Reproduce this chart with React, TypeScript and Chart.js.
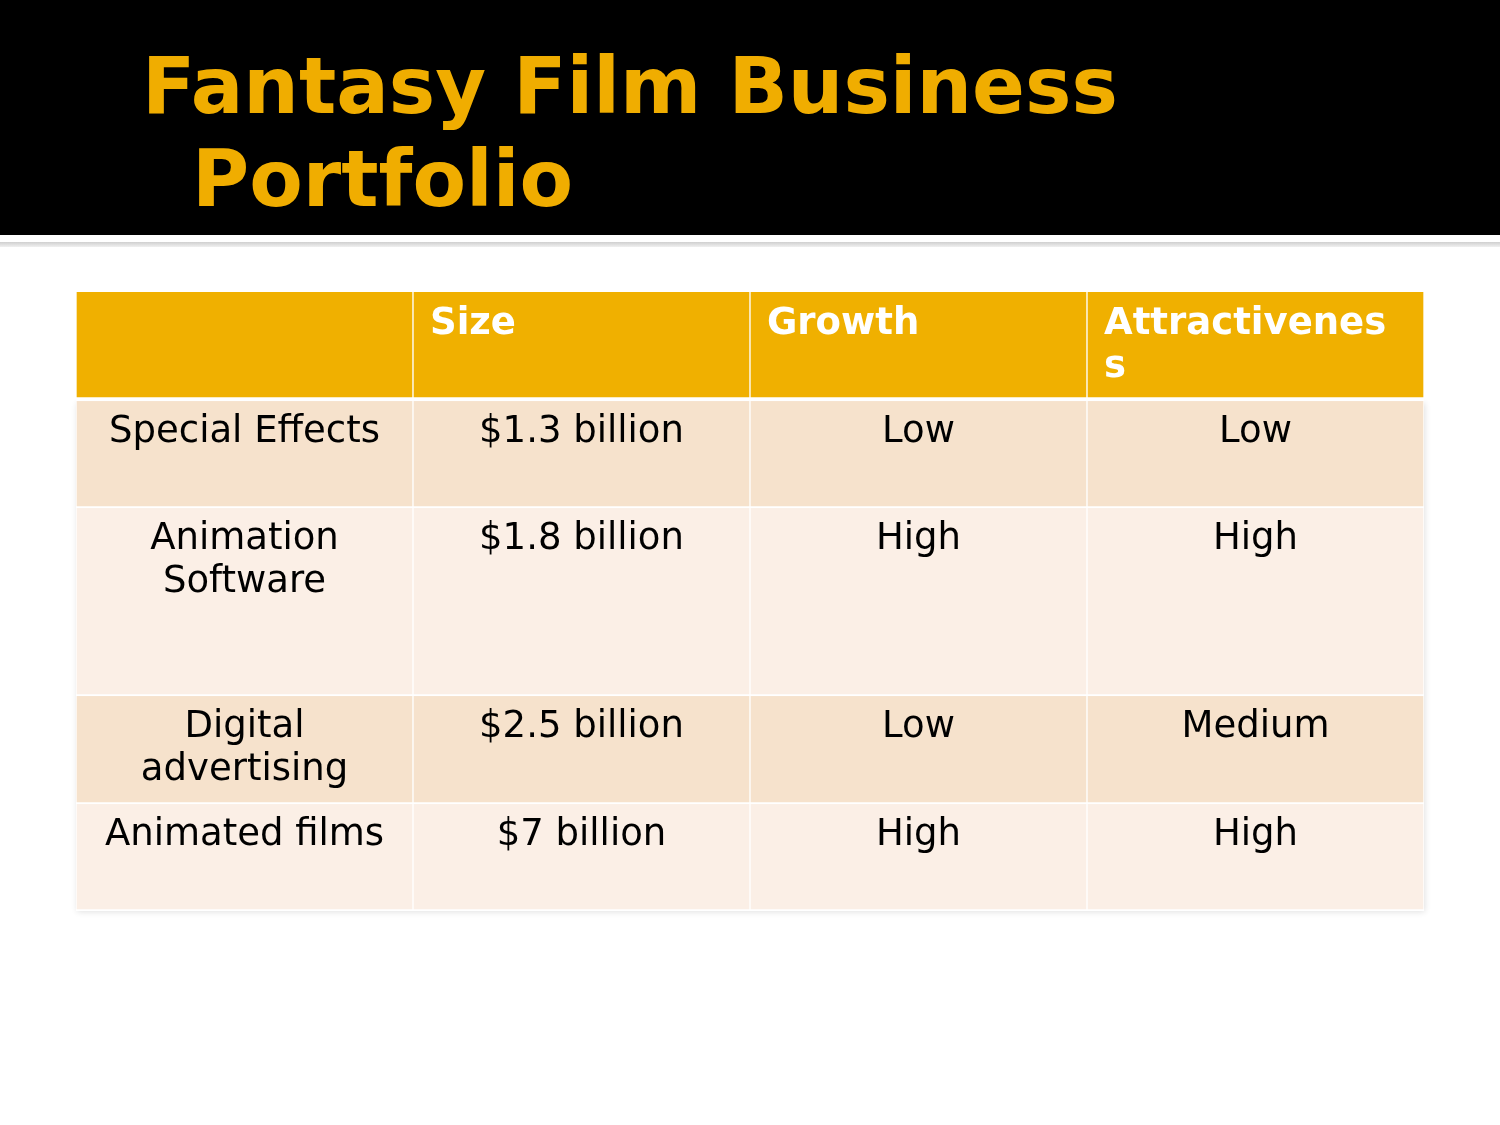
import React, { useEffect, useRef } from "react";
import { Chart, registerables } from "chart.js";

Chart.register(...registerables);

// ---- data ----
const titleLines = ["Fantasy Film Business", "Portfolio"];
const columnHeaders = ["", "Size", "Growth", "Attractiveness"];
const categories = ["Special Effects", "Animation Software", "Digital advertising", "Animated films"];
const sizes = ["$1.3 billion", "$1.8 billion", "$2.5 billion", "$7 billion"];
const growth = ["Low", "High", "Low", "High"];
const attractiveness = ["Low", "High", "Medium", "High"];

// ---- layout / style (row heights in pixel units on the y scale) ----
const rowHeights = [109, 107, 188, 108, 107];
const rowColors = ["#F0B000", "#F6E2CC", "#FBEFE6", "#F6E2CC", "#FBEFE6"];

const FONT = '"DejaVu Sans", "Liberation Sans", sans-serif';

function wrapText(ctx: CanvasRenderingContext2D, text: string, maxWidth: number): string[] {
  const words = text.split(" ");
  const lines: string[] = [];
  let cur = "";
  const splitWord = (w: string) => {
    if (ctx.measureText(w).width <= maxWidth) return [w];
    const parts: string[] = [];
    let p = "";
    for (const ch of w) {
      if (ctx.measureText(p + ch).width > maxWidth && p) {
        parts.push(p);
        p = ch;
      } else p += ch;
    }
    if (p) parts.push(p);
    return parts;
  };
  for (const word of words) {
    const test = cur ? cur + " " + word : word;
    if (ctx.measureText(test).width <= maxWidth) {
      cur = test;
    } else {
      if (cur) lines.push(cur);
      const parts = splitWord(word);
      for (let i = 0; i < parts.length - 1; i++) lines.push(parts[i]);
      cur = parts[parts.length - 1];
    }
  }
  if (cur) lines.push(cur);
  return lines;
}

export default function App() {
  const canvasRef = useRef<HTMLCanvasElement | null>(null);

  useEffect(() => {
    document.body.style.margin = "0";
    const canvas = canvasRef.current;
    if (!canvas) return;

    const bodyRows = categories.map((c, i) => [c, sizes[i], growth[i], attractiveness[i]]);
    const tableRows: string[][] = [columnHeaders, ...bodyRows];

    const datasets = tableRows.map((row, r) => ({
      label: r === 0 ? "header" : row[0],
      data: columnHeaders.map(() => rowHeights[r]),
      backgroundColor: rowColors[r],
      borderColor: "#FFFFFF",
      borderWidth: r === 0 ? { top: 0, bottom: 4, left: 1, right: 1 } : { top: 0, bottom: 2, left: 1, right: 1 },
      borderSkipped: false as const,
      barPercentage: 1,
      categoryPercentage: 1,
      stack: "table",
    }));

    const textPlugin = {
      id: "cellText",
      afterDatasetsDraw(chart: any) {
        const ctx: CanvasRenderingContext2D = chart.ctx;
        ctx.save();
        tableRows.forEach((row, r) => {
          const meta = chart.getDatasetMeta(r);
          row.forEach((txt, c) => {
            if (!txt) return;
            const el = meta.data[c];
            const top = Math.min(el.y, el.base);
            const left = el.x - el.width / 2;
            const pad = 17;
            const maxW = el.width - pad * 2;
            if (r === 0) {
              ctx.font = `bold 37px ${FONT}`;
              ctx.fillStyle = "#FFFFFF";
              ctx.textAlign = "left";
            } else {
              ctx.font = `37px ${FONT}`;
              ctx.fillStyle = "#000000";
              ctx.textAlign = "center";
            }
            ctx.textBaseline = "alphabetic";
            const lines = wrapText(ctx, txt, maxW);
            lines.forEach((ln, k) => {
              const y = top + (r === 0 ? 42 : 41) + k * 43;
              if (r === 0) ctx.fillText(ln, left + pad, y);
              else ctx.fillText(ln, el.x, y);
            });
          });
        });
        ctx.restore();
      },
    };

    const shadowPlugin = {
      id: "tableShadow",
      beforeDatasetsDraw(chart: any) {
        const { ctx, chartArea } = chart;
        ctx.save();
        ctx.shadowColor = "rgba(0,0,0,0.12)";
        ctx.shadowBlur = 6;
        ctx.shadowOffsetX = 1;
        ctx.shadowOffsetY = 1;
        ctx.fillStyle = "#FBEFE6";
        ctx.fillRect(chartArea.left, chartArea.top + 110, chartArea.right - chartArea.left, chartArea.bottom - chartArea.top - 110);
        ctx.restore();
      },
    };

    const total = rowHeights.reduce((a, b) => a + b, 0);

    const chart = new Chart(canvas, {
      type: "bar",
      data: { labels: columnHeaders.map((h, i) => h || `col${i}`), datasets: datasets as any },
      options: {
        animation: false,
        responsive: false,
        events: [],
        layout: { padding: { left: 76, right: 76, top: 292, bottom: 1125 - 292 - total } },
        plugins: { legend: { display: false }, tooltip: { enabled: false }, title: { display: false } },
        scales: {
          x: { display: false, stacked: true, offset: true, grid: { display: false } },
          y: { display: false, stacked: true, reverse: true, min: 0, max: total, grid: { display: false } },
        },
      },
      plugins: [shadowPlugin, textPlugin],
    });
    return () => chart.destroy();
  }, []);

  return (
    <div style={{ position: "relative", width: 1500, height: 1125, background: "#FFFFFF", overflow: "hidden" }}>
      <div style={{ position: "absolute", left: 0, top: 0, width: 1500, height: 235, background: "#000000" }} />
      <div
        style={{
          position: "absolute",
          left: 0,
          top: 242,
          width: 1500,
          height: 5,
          background: "linear-gradient(#cfcfcf, #f0f0f0)",
        }}
      />
      <div
        style={{
          position: "absolute",
          left: 142,
          top: 40,
          fontFamily: FONT,
          fontWeight: "bold",
          fontSize: 78,
          lineHeight: "93px",
          color: "#F0AD00",
          whiteSpace: "nowrap",
        }}
      >
        <div>{titleLines[0]}</div>
        <div style={{ paddingLeft: 50 }}>{titleLines[1]}</div>
      </div>
      <canvas ref={canvasRef} width={1500} height={1125} style={{ position: "absolute", left: 0, top: 0 }} />
    </div>
  );
}
